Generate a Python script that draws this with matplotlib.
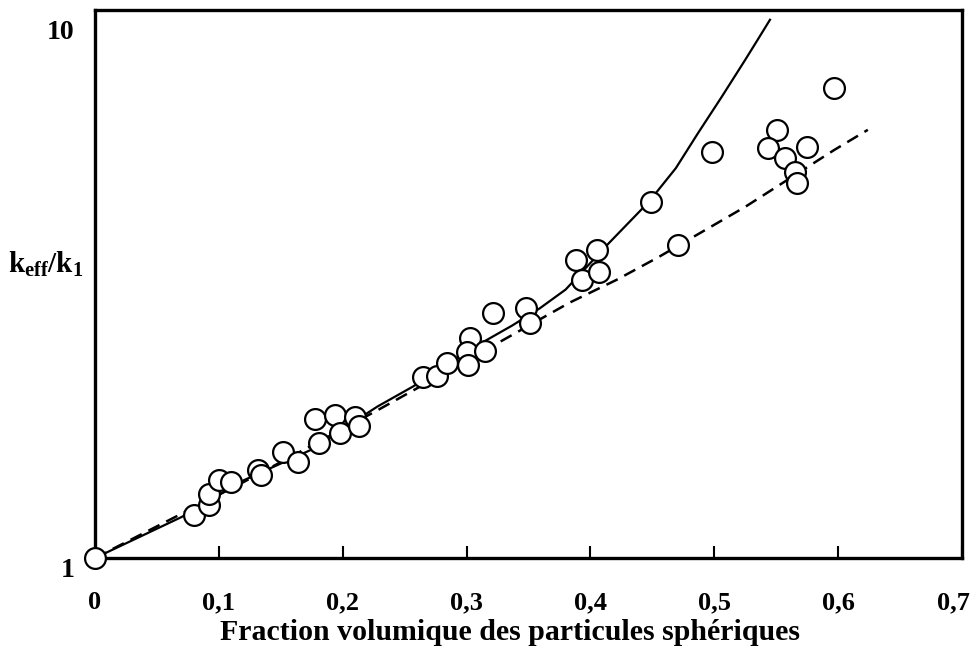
import matplotlib.pyplot as plt
from matplotlib.transforms import ScaledTranslation

plt.rcParams['font.family'] = ['Liberation Serif', 'DejaVu Serif']
plt.rcParams['font.weight'] = 'bold'
plt.rcParams['mathtext.fontset'] = 'custom'
plt.rcParams['mathtext.rm'] = 'Liberation Serif:bold'
plt.rcParams['mathtext.it'] = 'Liberation Serif:bold'
plt.rcParams['mathtext.bf'] = 'Liberation Serif:bold'

# measured points (volume fraction, keff/k1)
phi_mes = [0.0, 0.080, 0.092, 0.092, 0.100, 0.110, 0.132, 0.134, 0.152, 0.164,
           0.181, 0.178, 0.194, 0.198, 0.210, 0.213, 0.265, 0.276, 0.284, 0.303,
           0.300, 0.301, 0.315, 0.321, 0.348, 0.351, 0.388, 0.405, 0.393, 0.407,
           0.449, 0.471, 0.498, 0.597, 0.551, 0.543, 0.575, 0.557, 0.565, 0.567]
k_mes = [1.00, 1.20, 1.25, 1.31, 1.39, 1.38, 1.45, 1.42, 1.57, 1.50,
         1.63, 1.80, 1.83, 1.70, 1.82, 1.75, 2.15, 2.16, 2.29, 2.54,
         2.39, 2.27, 2.40, 2.83, 2.89, 2.71, 3.54, 3.69, 3.25, 3.36,
         4.52, 3.77, 5.59, 7.34, 6.14, 5.69, 5.71, 5.45, 5.14, 4.91]

# solid curve
phi_solid = [0.0, 0.070, 0.120, 0.174, 0.228, 0.257, 0.300, 0.337, 0.359, 0.380,
             0.415, 0.447, 0.469, 0.487, 0.506, 0.525, 0.535, 0.545]
k_solid = [1.00, 1.19, 1.39, 1.58, 1.90, 2.07, 2.40, 2.68, 2.88, 3.12,
           3.80, 4.52, 5.22, 6.06, 7.06, 8.26, 8.99, 9.79]

# dashed curve
phi_dash = [0.0, 0.120, 0.228, 0.279, 0.327, 0.383, 0.421, 0.455, 0.525, 0.597, 0.624]
k_dash = [1.00, 1.38, 1.87, 2.17, 2.50, 2.95, 3.25, 3.58, 4.43, 5.64, 6.14]

fig = plt.figure(figsize=(9.78, 6.5), dpi=100)
ax = fig.add_axes([0.0971, 0.1415, 0.8865, 0.843])

ax.plot(phi_solid, k_solid, color='black', linewidth=1.6, zorder=2)
ax.plot(phi_dash, k_dash, color='black', linewidth=1.8, dashes=(5, 3), zorder=2)
ax.plot(phi_mes, k_mes, linestyle='none', marker='o', markersize=15,
        markerfacecolor='white', markeredgecolor='black', markeredgewidth=1.6,
        zorder=3, clip_on=False)

ax.set_yscale('log')
ax.set_xlim(0, 0.7)
ax.set_ylim(1, 10.2)

ax.set_xticks([0, 0.1, 0.2, 0.3, 0.4, 0.5, 0.6, 0.7])
ax.set_xticklabels(['0', '0,1', '0,2', '0,3', '0,4', '0,5', '0,6', '0,7'])
ax.tick_params(axis='x', direction='in', length=9, width=1.5, pad=24, labelsize=19)
ax.set_yticks([1, 10])
ax.set_yticklabels(['1', '10'])
ax.yaxis.set_minor_locator(plt.NullLocator())
ax.tick_params(axis='y', length=0, pad=15, labelsize=20)

# small offsets of the labels as in the original
lbl = ax.get_xticklabels()
lbl[-1].set_transform(lbl[-1].get_transform() + ScaledTranslation(-0.09, 0, fig.dpi_scale_trans))
ylb = ax.get_yticklabels()
ylb[0].set_transform(ylb[0].get_transform() + ScaledTranslation(0, -0.09, fig.dpi_scale_trans))
ylb[1].set_transform(ylb[1].get_transform() + ScaledTranslation(0, -0.15, fig.dpi_scale_trans))

for s in ax.spines.values():
    s.set_linewidth(2.4)

fig.text(0.521, 0.016, 'Fraction volumique des particules sphériques', fontsize=21.5,
         fontweight='bold', ha='center', va='baseline')
fig.text(0.008, 0.593, r'$\mathrm{k_{eff}/k_1}$', fontsize=21, va='center', ha='left')

fig.savefig('out.png', dpi=100)
